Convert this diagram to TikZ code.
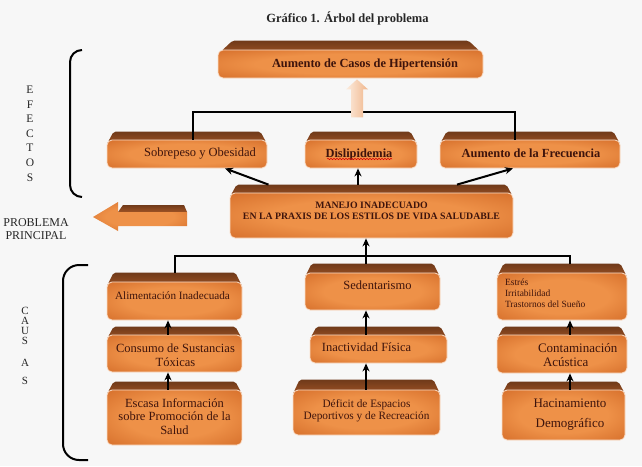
\documentclass[tikz,border=0pt]{standalone}
\usepackage{fontspec}
\setmainfont{Liberation Serif}
\usetikzlibrary{arrows.meta,calc,decorations.pathmorphing,backgrounds}
\definecolor{txt}{RGB}{62,20,12}
\definecolor{boxlight}{RGB}{238,145,72}
\definecolor{boxdark}{RGB}{196,86,22}
\definecolor{bevtop}{RGB}{112,58,26}
\definecolor{bevbot}{RGB}{158,82,36}
\definecolor{glow}{RGB}{250,222,200}
\definecolor{peachl}{RGB}{252,236,222}
\definecolor{peachr}{RGB}{240,182,140}
\definecolor{bg}{RGB}{247,247,247}
\pgfdeclareradialshading{boxglow}{\pgfpoint{0bp}{0bp}}{color(0bp)=(boxlight); color(18bp)=(boxlight); color(50bp)=(boxdark)}
\newcommand\tx[3]{\makebox[0pt]{\kern#1\kern#1\raisebox{#2}[0pt][0pt]{\begin{tabular}[t]{@{}c@{}}#3\end{tabular}}}}
\newcommand\txl[3]{\makebox[0pt][l]{\kern#1\raisebox{#2}[0pt][0pt]{\begin{tabular}[t]{@{}l@{}}#3\end{tabular}}}}
\newcommand\bev[3]{\shade[top color=bevtop, bottom color=bevbot, rounded corners=2pt] ([yshift=-5pt]#1.north west) -- ([xshift=#3pt,yshift=#2pt]#1.north west) -- ([xshift=-#3pt,yshift=#2pt]#1.north east) -- ([yshift=-5pt]#1.north east) -- cycle;}
\begin{document}
\begin{tikzpicture}[x=1pt,y=-1pt,
  box/.style={shade, shading=boxglow, rounded corners=5pt, draw=glow, line width=0.8pt, inner sep=0pt, text=txt},
  conn/.style={line width=2pt, black},
  arr/.style={conn, -{Stealth[length=8pt,width=7pt]}},
  efb/.style={font=\bfseries\fontsize{12.4}{14}\selectfont},
  efn/.style={font=\fontsize{12.5}{14}\selectfont}
]
\useasboundingbox (0,0) rectangle (642,466);

% title and side labels
\node[font=\bfseries\fontsize{12.5}{14}\selectfont, text=black!85] (title) at (347.5,22) {\tx{0pt}{0pt}{Gráfico 1. Árbol del problema}};
\node[font=\fontsize{11.5}{14.6}\selectfont, text=black!85] (efe) at (30,93.5) {\tx{0pt}{0pt}{E\\F\\E\\C\\T\\O\\S}};
\node[font=\fontsize{11}{10}\selectfont, text=black!85] (cau) at (25,314) {\tx{0pt}{0pt}{C\\A\\U\\S\\[11pt]A\\[8pt]S}};
\node[font=\fontsize{12}{13}\selectfont, text=black!85] (prob) at (36,226) {\tx{0pt}{0pt}{PROBLEMA\\PRINCIPAL}};

% effects
\node[box, efb, minimum width=265pt, minimum height=28pt] (top) at (350.5,64) {\tx{14.5pt}{-3.5pt}{Aumento de Casos de Hipertensión}};
\node[box, efn, minimum width=160pt, minimum height=28pt] (sob) at (187,154) {\tx{13pt}{-2.5pt}{Sobrepeso y Obesidad}};
\node[box, efb, minimum width=112pt, minimum height=28pt] (dis) at (361,154) {\tx{-2pt}{-3pt}{Dislipidemia}};
\node[box, efb, minimum width=180pt, minimum height=28pt] (frec) at (530,154) {\tx{1pt}{-3.5pt}{Aumento de la Frecuencia}};

% main problem
\node[box, minimum width=283pt, minimum height=45pt, font=\bfseries\fontsize{9.8}{11}\selectfont] (man) at (371.5,215.5) {\tx{0pt}{7pt}{MANEJO INADECUADO\\EN LA PRAXIS DE LOS ESTILOS DE VIDA SALUDABLE}};

% causes
\node[box, minimum width=135pt, minimum height=38pt, font=\fontsize{11.2}{13}\selectfont] (ali) at (174.5,301) {\tx{-2pt}{2pt}{Alimentación Inadecuada}};
\node[box, efn, minimum width=135pt, minimum height=37pt] (con) at (174.5,353.5) {\tx{1pt}{1.5pt}{Consumo de Sustancias\\Tóxicas}};
\node[box, minimum width=135pt, minimum height=55pt, font=\fontsize{12.5}{13.5}\selectfont] (esc) at (174.5,417.5) {\tx{0pt}{10.5pt}{Escasa Información\\sobre Promoción de la\\Salud}};
\node[box, efn, minimum width=135pt, minimum height=37pt] (sed) at (372.5,291.5) {\tx{5pt}{2pt}{Sedentarismo}};
\node[box, efn, minimum width=137pt, minimum height=28pt] (ina) at (378.5,349) {\tx{-12pt}{-2.5pt}{Inactividad Física}};
\node[box, minimum width=147pt, minimum height=45pt, font=\fontsize{11.3}{12}\selectfont] (def) at (366.5,412.5) {\tx{0pt}{5.5pt}{Déficit de Espacios\\Deportivos y de Recreación}};
\node[box, minimum width=130pt, minimum height=47pt, font=\fontsize{9.5}{11}\selectfont] (est) at (562,296.5) {\txl{-57pt}{11.5pt}{Estrés\\Irritabilidad\\Trastornos del Sueño}};
\node[box, minimum width=130pt, minimum height=38pt, font=\fontsize{13}{14}\selectfont] (cont) at (562,354) {\txl{-24pt}{1.5pt}{Contaminación\\\hspace*{5pt}Acústica}};
\node[box, minimum width=123pt, minimum height=50pt, font=\fontsize{13}{20}\selectfont] (hac) at (563.5,415) {\tx{6.5pt}{7.5pt}{Hacinamiento\\Demográfico}};

% background and top faces
\begin{scope}[on background layer]
  \fill[bg] (0,0) rectangle (642,466);
  \bev{top}{9}{15}
  \bev{sob}{8}{7}
  \bev{dis}{8}{7}
  \bev{frec}{8}{7}
  \bev{man}{8}{7}
  \bev{ali}{9}{7}
  \bev{con}{8}{7}
  \bev{esc}{8}{7}
  \bev{sed}{9}{7}
  \bev{ina}{8}{7}
  \bev{def}{10}{7}
  \bev{est}{9}{7}
  \bev{cont}{8}{7}
  \bev{hac}{8}{7}
\end{scope}

% spell-check squiggle
\draw[red!85!black, line width=0.5pt, decorate, decoration={snake, amplitude=0.7pt, segment length=3pt}] ($(dis.center)+(-34,5)$) -- ($(dis.center)+(31,5)$);

% connectors
\coordinate (ebar) at (357,112);
\coordinate (cbar) at (366,256);
\draw[conn] ([xshift=6pt]sob.north) |- (ebar) -| ([xshift=-15pt]frec.north);
\draw[arr] ([xshift=-103pt,yshift=8pt]man.north) -- ([xshift=38pt]sob.south);
\draw[arr] ([xshift=-13.5pt,yshift=8pt]man.north) -- ([xshift=-3pt]dis.south);
\draw[arr] ([xshift=85.5pt,yshift=8pt]man.north) -- ([xshift=-17pt]frec.south);

\draw[conn] ([yshift=9pt]ali.north) |- (cbar) -| ([xshift=8pt,yshift=9pt]est.north);
\draw[arr] ([xshift=-6.5pt,yshift=9pt]sed.north) -- ([xshift=-5.5pt]man.south);
\draw[arr] ([xshift=-6.5pt]con.north) -- ([xshift=-6.5pt]ali.south);
\draw[arr] ([xshift=-6.5pt]esc.north) -- ([xshift=-6.5pt]con.south);
\draw[arr] ([xshift=-12.5pt]ina.north) -- ([xshift=-6.5pt]sed.south);
\draw[arr] ([xshift=-0.5pt]def.north) -- ([xshift=-12.5pt]ina.south);
\draw[arr] ([xshift=8pt]cont.north) -- ([xshift=8pt]est.south);
\draw[arr] ([xshift=6.5pt]hac.north) -- ([xshift=8pt]cont.south);

% hollow peach arrow up to the top effect
\shade[left color=peachl, right color=peachr] ($(top.south)+(6.5,1)$) -- ++(11,10) -- ++(-5,0) -- ++(0,28) -- ++(-12,0) -- ++(0,-28) -- ++(-5,0) -- cycle;

% problem arrow pointing left
\shade[top color=bevtop, bottom color=bevbot] (118,212) -- (123,205) -- (184,205) -- (187,212) -- cycle;
\shade[shading=boxglow] (93,217) -- (118,202) -- (118,212) -- (187,212) -- (187,226) -- (118,226) -- (118,231) -- cycle;

% brackets
\draw[line width=2pt, rounded corners=12pt] (82,50) -- (70,50) -- (70,197) -- (82,197);
\draw[line width=2pt, rounded corners=16pt] (88,265) -- (63,265) -- (63,460) -- (88,460);
\end{tikzpicture}
\end{document}
